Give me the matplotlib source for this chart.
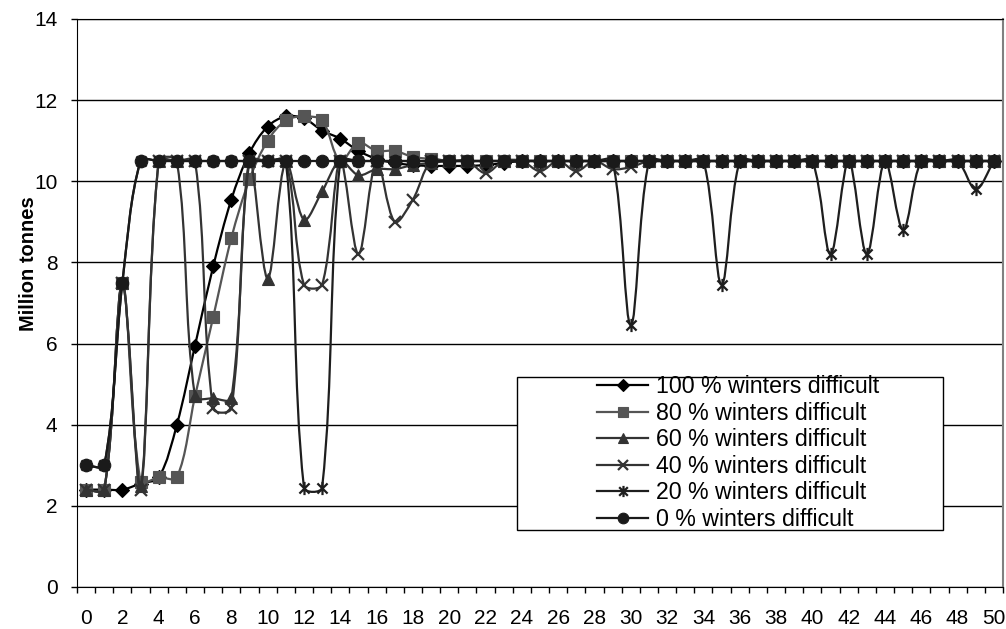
import numpy as np
import matplotlib
matplotlib.use('Agg')
import matplotlib.pyplot as plt
from matplotlib.path import Path
from matplotlib.patches import PathPatch, Rectangle
from matplotlib.lines import Line2D

plt.rcParams['font.family'] = ['Liberation Sans', 'DejaVu Sans']

# years on the category axis
years = list(range(51))

labels = ['100 % winters difficult', '80 % winters difficult', '60 % winters difficult',
          '40 % winters difficult', '20 % winters difficult', '0 % winters difficult']

# Million tonnes
s100 = [2.4, 2.4, 2.4, 2.55, 2.7, 4.0, 5.95, 7.9, 9.55, 10.7,
        11.35, 11.6, 11.55, 11.25, 11.05, 10.75, 10.55, 10.45, 10.4, 10.38,
        10.38, 10.38, 10.4, 10.45, 10.5, 10.5, 10.5, 10.5, 10.5, 10.5,
        10.5, 10.5, 10.5, 10.5, 10.5, 10.5, 10.5, 10.5, 10.5, 10.5,
        10.5, 10.5, 10.5, 10.5, 10.5, 10.5, 10.5, 10.5, 10.5, 10.5,
        10.5]
s80 = [2.4, 2.4, 7.5, 2.6, 2.7, 2.7, 4.7, 6.65, 8.6, 10.05,
       11.0, 11.5, 11.6, 11.5, 10.5, 10.95, 10.75, 10.75, 10.6, 10.55,
       10.5, 10.5, 10.5, 10.5, 10.5, 10.5, 10.5, 10.5, 10.5, 10.5,
       10.5, 10.5, 10.5, 10.5, 10.5, 10.5, 10.5, 10.5, 10.5, 10.5,
       10.5, 10.5, 10.5, 10.5, 10.5, 10.5, 10.5, 10.5, 10.5, 10.5,
       10.5]
s60 = [2.4, 2.4, 7.5, 2.5, 10.5, 10.5, 4.7, 4.65, 4.65, 10.5,
       7.6, 10.5, 9.05, 9.75, 10.5, 10.15, 10.3, 10.3, 10.4, 10.45,
       10.5, 10.5, 10.5, 10.5, 10.5, 10.5, 10.5, 10.5, 10.5, 10.5,
       10.5, 10.5, 10.5, 10.5, 10.5, 10.5, 10.5, 10.5, 10.5, 10.5,
       10.5, 10.5, 10.5, 10.5, 10.5, 10.5, 10.5, 10.5, 10.5, 10.5,
       10.5]
s40 = [2.4, 2.4, 7.5, 2.4, 10.5, 10.5, 10.5, 4.4, 4.4, 10.5,
       10.5, 10.5, 7.45, 7.45, 10.5, 8.2, 10.5, 9.0, 9.55, 10.5,
       10.5, 10.5, 10.2, 10.5, 10.5, 10.25, 10.5, 10.25, 10.5, 10.3,
       10.35, 10.5, 10.5, 10.5, 10.5, 10.5, 10.5, 10.5, 10.5, 10.5,
       10.5, 10.5, 10.5, 10.5, 10.5, 10.5, 10.5, 10.5, 10.5, 10.5,
       10.5]
s20 = [3.0, 3.0, 7.5, 10.5, 10.5, 10.5, 10.5, 10.5, 10.5, 10.5,
       10.5, 10.5, 2.45, 2.45, 10.5, 10.5, 10.5, 10.5, 10.5, 10.5,
       10.5, 10.5, 10.5, 10.5, 10.5, 10.5, 10.5, 10.5, 10.5, 10.5,
       6.45, 10.5, 10.5, 10.5, 10.5, 7.45, 10.5, 10.5, 10.5, 10.5,
       10.5, 8.2, 10.5, 8.2, 10.5, 8.8, 10.5, 10.5, 10.5, 9.8,
       10.5]
s0 = [3.0, 3.0, 7.5, 10.5, 10.5, 10.5, 10.5, 10.5, 10.5, 10.5,
      10.5, 10.5, 10.5, 10.5, 10.5, 10.5, 10.5, 10.5, 10.5, 10.5,
      10.5, 10.5, 10.5, 10.5, 10.5, 10.5, 10.5, 10.5, 10.5, 10.5,
      10.5, 10.5, 10.5, 10.5, 10.5, 10.5, 10.5, 10.5, 10.5, 10.5,
      10.5, 10.5, 10.5, 10.5, 10.5, 10.5, 10.5, 10.5, 10.5, 10.5,
      10.5]

# asterisk marker: an x with a vertical bar
asterisk = Path([(-1, -1), (1, 1), (-1, 1), (1, -1), (0, -1.3), (0, 1.3)],
                [Path.MOVETO, Path.LINETO, Path.MOVETO, Path.LINETO, Path.MOVETO, Path.LINETO])

styles = [
    dict(color='#000000', marker='D', ms=7.5),
    dict(color='#555555', marker='s', ms=8.5),
    dict(color='#333333', marker='^', ms=9),
    dict(color='#333333', marker='x', ms=8.5),
    dict(color='#1e1e1e', marker=asterisk, ms=9.5),
    dict(color='#1a1a1a', marker='o', ms=9),
]

# pixel size of one data unit, used to weight the smoothing like Excel does
SX = 926 / 51
SY = 568 / 14


def smooth_path(xs, ys):
    # smoothed line as cubic Beziers, handle length weighted by segment length
    pts = np.column_stack([xs, ys]).astype(float)
    scale = np.array([SX, SY])
    n = len(pts)
    verts = [pts[0]]
    codes = [Path.MOVETO]

    def seglen(a, b):
        return np.hypot(*((b - a) * scale))

    for i in range(n - 1):
        p1 = pts[i]
        p2 = pts[i + 1]
        d12 = seglen(p1, p2)
        if i > 0:
            p0 = pts[i - 1]
            d01 = seglen(p0, p1)
            w = d12 / (d01 + d12) if d01 + d12 > 0 else 0
            c1 = p1 + (p2 - p0) * w / 3
        else:
            c1 = p1 + (p2 - p1) / 3
        if i + 2 < n:
            p3 = pts[i + 2]
            d23 = seglen(p2, p3)
            w = d12 / (d12 + d23) if d12 + d23 > 0 else 0
            c2 = p2 - (p3 - p1) * w / 3
        else:
            c2 = p2 - (p2 - p1) / 3
        verts += [c1, c2, p2]
        codes += [Path.CURVE4] * 3
    return Path(verts, codes)


fig = plt.figure(figsize=(10.06, 6.29), dpi=100)
ax = fig.add_axes([77 / 1006, 1 - 587 / 629, 926 / 1006, 568 / 629])

handles = []
for k, (ys, st) in enumerate(zip([s100, s80, s60, s40, s20, s0], styles)):
    z = 3 + k
    ax.add_patch(PathPatch(smooth_path(years, ys), fill=False, edgecolor=st['color'],
                           lw=1.6, zorder=z, capstyle='round', joinstyle='round'))
    lined = st['marker'] == 'x' or st['marker'] is asterisk
    ax.plot(years, ys, linestyle='none', marker=st['marker'], ms=st['ms'],
            mfc=st['color'], mec=st['color'], mew=1.6 if lined else 0.8, zorder=z + 0.5,
            clip_on=False)
    handles.append(Line2D([], [], color=st['color'], lw=1.6, marker=st['marker'],
                          ms=st['ms'] * 0.85, mfc=st['color'], mec=st['color'],
                          mew=1.6 if lined else 0.8))

ax.set_xlim(-0.5, 50.5)
ax.set_ylim(0, 14)

ax.set_xticks(np.arange(0, 51, 2))
ax.set_xticks(np.arange(-0.5, 51, 1), minor=True)
ax.tick_params(axis='x', which='major', length=0, pad=16, labelsize=15)
ax.tick_params(axis='x', which='minor', length=4, width=1, direction='out')
ax.set_yticks(np.arange(0, 15, 2))
ax.tick_params(axis='y', length=4, width=1, direction='out', pad=10, labelsize=15)

ax.yaxis.grid(True, color='black', lw=1)
ax.set_axisbelow(True)
for side in ['left', 'bottom', 'top']:
    ax.spines[side].set_color('black')
ax.spines['right'].set_color('#808080')
ax.spines['right'].set_linewidth(1.5)

ax.set_ylabel('Million tonnes', fontsize=14.5, fontweight='bold')
ax.yaxis.set_label_coords(-0.042, 0.57)

# legend box
ax.add_patch(Rectangle((517 / 1006, 1 - 530 / 629), 426 / 1006, 153 / 629,
                       transform=fig.transFigure, facecolor='white', edgecolor='black',
                       lw=1, zorder=20, clip_on=False))
leg = ax.legend(handles, labels, loc='upper left', bbox_to_anchor=(595 / 1006, 1 - 373 / 629),
                bbox_transform=fig.transFigure, frameon=False, fontsize=16.7,
                handlelength=2.2, handletextpad=0.35, labelspacing=0.15, borderpad=0.1,
                borderaxespad=0)
leg.set_zorder(21)

fig.savefig('out.png', dpi=100)
